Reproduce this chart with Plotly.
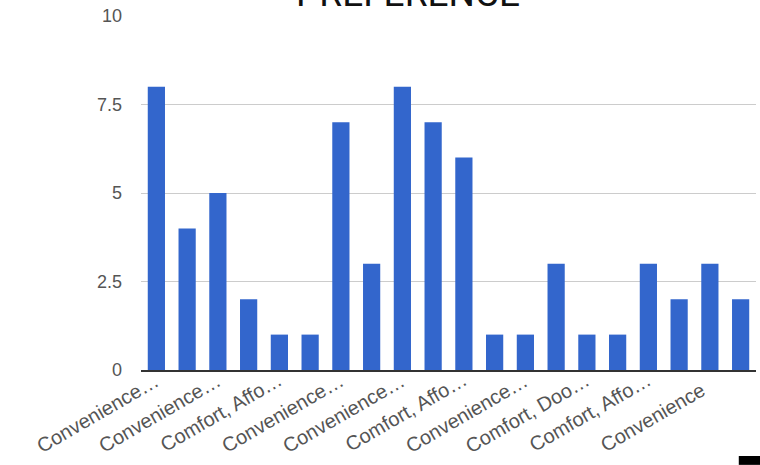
import plotly.graph_objects as go

# Responses per answer, in survey order
values = [8, 4, 5, 2, 1, 1, 7, 3, 8, 7, 6, 1, 1, 3, 1, 1, 3, 2, 3, 2]
positions = list(range(len(values)))

# Only every other category fits a label under the axis
label_positions = [0, 2, 4, 6, 8, 10, 12, 14, 16, 18]
label_text = [
    "Convenience…", "Convenience…", "Comfort, Affo…", "Convenience…",
    "Convenience…", "Comfort, Affo…", "Convenience…", "Comfort, Doo…",
    "Comfort, Affo…", "Convenience",
]

y_ticks = [0, 2.5, 5, 7.5, 10]
y_tick_text = ["0", "2.5", "5", "7.5", "10"]

title_text = "PREFERENCE"

fig = go.Figure(
    go.Bar(
        x=positions,
        y=values,
        marker=dict(color="#3366cc", line=dict(width=0)),
        hoverinfo="x+y",
    )
)

fig.update_layout(
    width=760,
    height=465,
    margin=dict(l=141, r=4, t=16, b=95),
    paper_bgcolor="white",
    plot_bgcolor="white",
    bargap=0.44,
    showlegend=False,
    font=dict(family="Liberation Sans, Arial, sans-serif", color="#555555"),
)

fig.update_xaxes(
    range=[-0.5, len(values) - 0.5],
    showticklabels=False,
    showgrid=False,
    zeroline=False,
    showline=True,
    linecolor="#333333",
    linewidth=2,
    ticks="",
)

fig.update_yaxes(
    range=[0, 10],
    tickmode="array",
    tickvals=y_ticks,
    ticktext=y_tick_text,
    tickfont=dict(size=18, color="#555555"),
    showgrid=True,
    gridcolor="#cccccc",
    gridwidth=1,
    zeroline=False,
    showline=False,
    ticks="",
    ticklabelstandoff=18,
)

# Slanted category labels, right end tucked under each labelled bar.
# The ellipsis glyph leaves blank room at the end of its box, so
# truncated labels are nudged right and up to line up the same way.
for pos, txt in zip(label_positions, label_text):
    truncated = txt.endswith("…")
    fig.add_annotation(
        text=txt,
        x=pos,
        y=0,
        xref="x",
        yref="y",
        xanchor="right",
        yanchor="top",
        textangle=-30,
        xshift=9 if truncated else 2,
        yshift=4 if truncated else -5,
        showarrow=False,
        font=dict(family="Liberation Sans, Arial, sans-serif", size=20, color="#555555"),
    )

# Chart title, sitting above the top gridline
fig.add_annotation(
    text=title_text,
    xref="paper",
    yref="paper",
    x=0.434,
    y=1.063,
    xanchor="center",
    yanchor="middle",
    showarrow=False,
    font=dict(family="Roboto, sans-serif", size=37, color="#111111"),
)

# Small dark block in the lower-right corner
fig.add_shape(
    type="rect",
    xref="paper",
    yref="paper",
    x0=0.972,
    x1=1.01,
    y0=-0.268,
    y1=-0.243,
    fillcolor="black",
    line=dict(width=0),
    layer="above",
)

fig.write_html("out.html")
